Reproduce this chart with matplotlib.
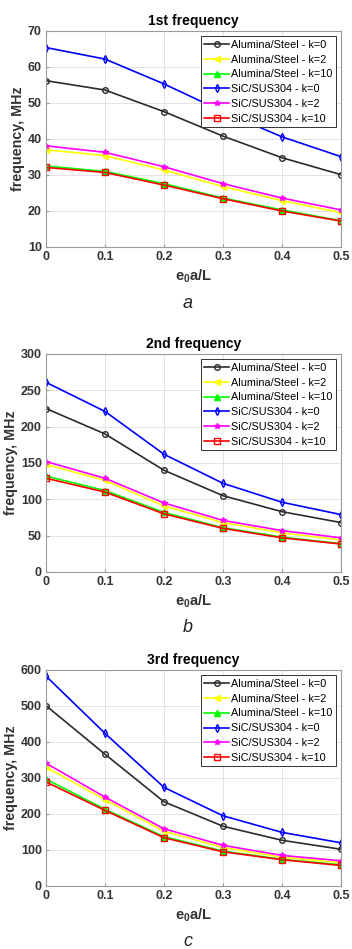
import matplotlib
matplotlib.use("Agg")
import matplotlib.pyplot as plt
import numpy as np

plt.rcParams["font.family"] = ["Liberation Sans", "DejaVu Sans"]
plt.rcParams["mathtext.fontset"] = "custom"
plt.rcParams["mathtext.rm"] = "Liberation Sans"
plt.rcParams["mathtext.bf"] = "Liberation Sans:bold"

e0a_L = [0, 0.1, 0.2, 0.3, 0.4, 0.5]

series_names = [
    "Alumina/Steel - k=0",
    "Alumina/Steel - k=2",
    "Alumina/Steel - k=10",
    "SiC/SUS304 - k=0",
    "SiC/SUS304 - k=2",
    "SiC/SUS304 - k=10",
]

# 1st frequency, MHz
freq1 = [
    [56.2, 53.6, 47.6, 40.8, 34.8, 30.1],
    [37.0, 35.4, 31.4, 26.8, 22.9, 19.5],
    [32.5, 31.0, 27.6, 23.6, 20.3, 17.3],
    [65.4, 62.2, 55.3, 47.6, 40.6, 35.1],
    [38.1, 36.3, 32.3, 27.6, 23.6, 20.3],
    [32.1, 30.7, 27.2, 23.4, 20.0, 17.2],
]
# 2nd frequency, MHz
freq2 = [
    [225, 190, 140, 105, 83, 68],
    [148, 126, 91, 68, 54, 44],
    [132, 112, 82, 61, 48, 39],
    [261, 221, 162, 122, 96, 79],
    [152, 129, 95, 71, 57, 47],
    [129, 110, 80, 60, 47, 38.5],
]
# 3rd frequency, MHz
freq3 = [
    [501, 366, 234, 166, 127, 102],
    [330, 240, 152, 107, 80, 65],
    [297, 213, 137, 97, 74, 59],
    [583, 424, 274, 195, 149, 120],
    [341, 247, 159, 113, 85, 70],
    [289, 210, 134, 95, 73, 57],
]

titles = ["1st frequency", "2nd frequency", "3rd frequency"]
ylims = [(10, 70), (0, 300), (0, 600)]
ysteps = [10, 50, 100]
panel_letters = ["a", "b", "c"]

colors = ["#2b2b2b", "#ffff00", "#00ff00", "#0000ff", "#ff00ff", "#ff0000"]
markers = ["o", "<", "^", "d", "*", "s"]
filled = [False, True, True, False, True, False]

fig = plt.figure(figsize=(3.52, 9.49), dpi=100)
W, H = 352.0, 949.0
# (top px, bottom px) of each axes
boxes = [(31, 247), (354, 572), (670, 886)]
letter_y = [303, 628, 942]

for i, data in enumerate([freq1, freq2, freq3]):
    top, bot = boxes[i]
    ax = fig.add_axes([46 / W, 1 - bot / H, 295 / W, (bot - top) / H])
    for j, ys in enumerate(data):
        mfc = colors[j] if filled[j] else "none"
        ax.plot(e0a_L, ys, color=colors[j], marker=markers[j], markersize=4,
                markerfacecolor=mfc, markeredgecolor=colors[j], lw=1.2,
                label=series_names[j])
    ax.set_xlim(0, 0.5)
    ax.set_ylim(*ylims[i])
    ax.set_xticks(e0a_L)
    ax.set_xticklabels(["0", "0.1", "0.2", "0.3", "0.4", "0.5"])
    ax.set_yticks(np.arange(ylims[i][0], ylims[i][1] + 1, ysteps[i]))
    ax.grid(True, color="#e3e3e3", lw=0.7)
    ax.set_axisbelow(True)
    for s in ax.spines.values():
        s.set_color("#9a9a9a")
        s.set_linewidth(0.8)
    ax.tick_params(direction="in", length=2.5, color="#9a9a9a", labelsize=9,
                   labelcolor="#333333", pad=3)
    for lab in ax.get_xticklabels() + ax.get_yticklabels():
        lab.set_fontweight("bold")
    ax.set_title(titles[i], fontsize=10, fontweight="bold", pad=4)
    ax.set_ylabel("frequency, MHz", fontsize=10.3, fontweight="bold", color="#333333", labelpad=2)
    ax.set_xlabel(r"$\mathbf{e_0a/L}$", fontsize=10.5, color="#333333", labelpad=3)
    leg = ax.legend(loc="upper right", fontsize=7.8, frameon=True, fancybox=False,
                    edgecolor="#333333", framealpha=1, handlelength=2.3,
                    handletextpad=0.15, labelspacing=0.45, borderpad=0.3,
                    borderaxespad=0.5)
    leg.get_frame().set_linewidth(0.7)
    fig.text(188 / W, 1 - letter_y[i] / H, panel_letters[i], fontsize=13,
             style="italic", ha="center", va="center", color="#222222")

fig.savefig("out.png", dpi=100)
